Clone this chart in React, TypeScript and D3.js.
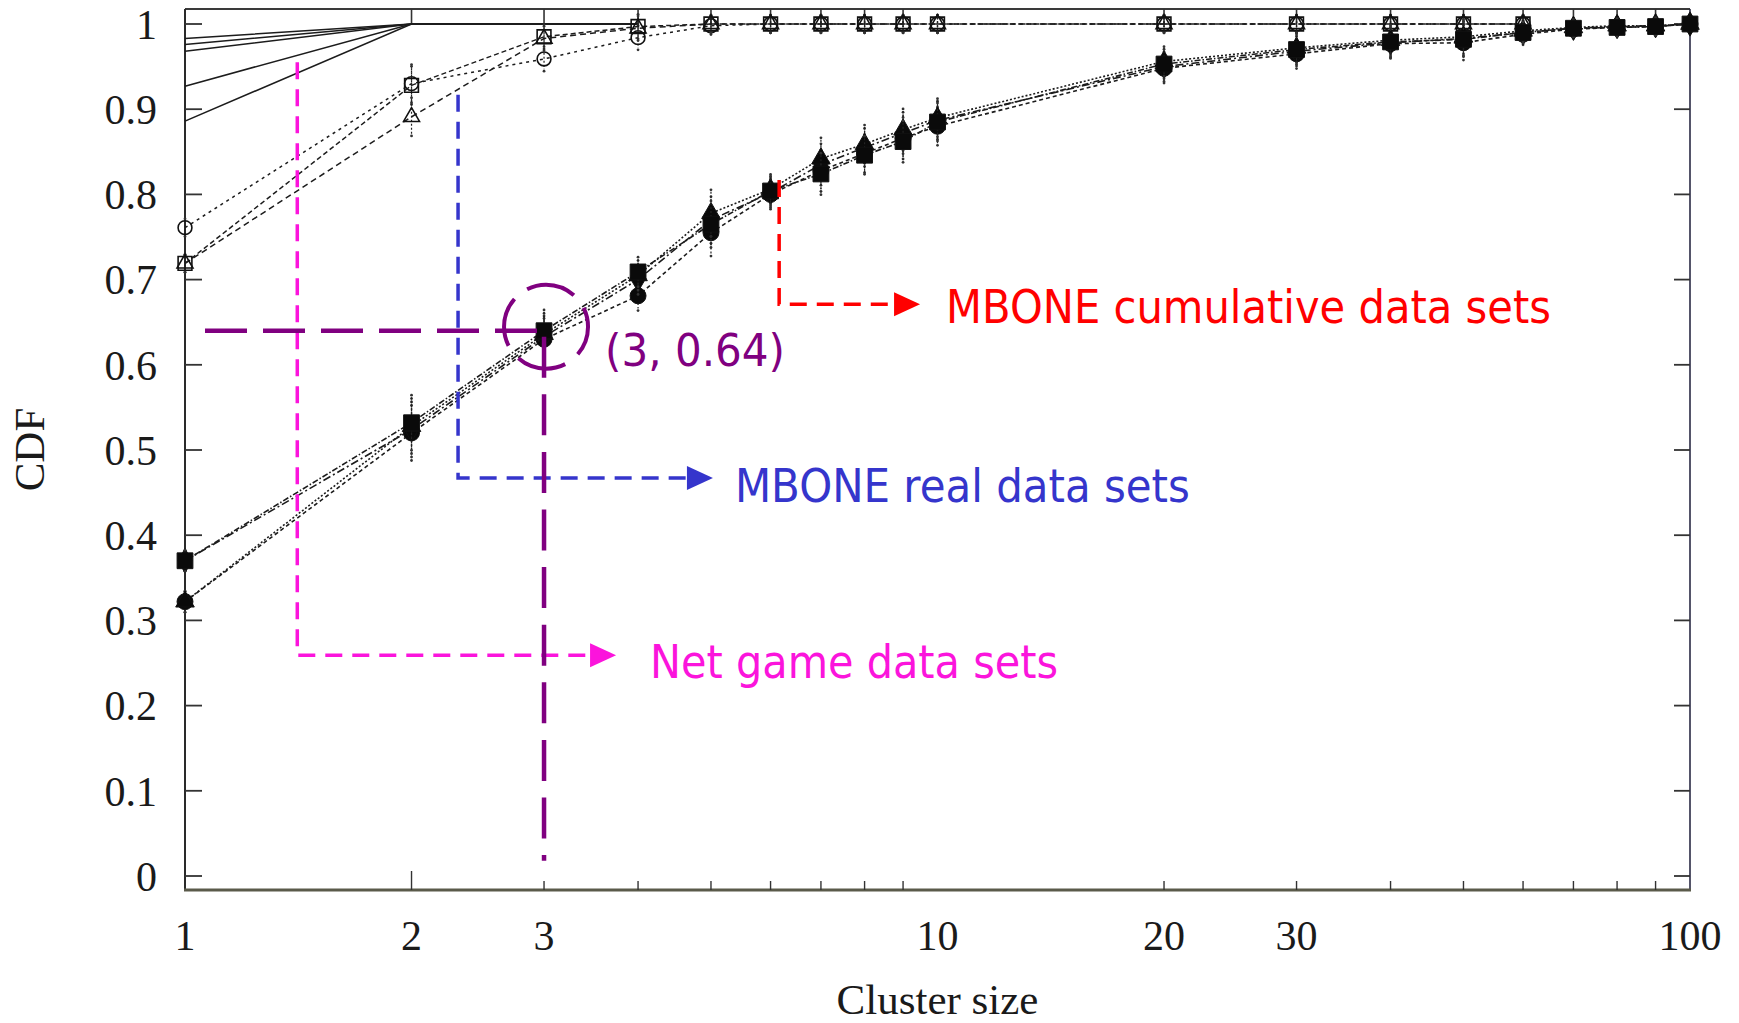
import React from 'react';
import * as d3 from 'd3';

// Cluster sizes at which the MBONE cumulative CDFs were sampled
const clusterSizes = [1, 2, 3, 4, 5, 6, 7, 8, 9, 10, 20, 30, 40, 50, 60, 70, 80, 90, 100];

// MBONE cumulative data sets (filled markers)
const cumSquare = [0.370, 0.532, 0.640, 0.709, 0.765, 0.804, 0.824, 0.846, 0.862, 0.885, 0.953, 0.970, 0.979, 0.982, 0.990, 0.995, 0.996, 0.997, 1.000];
const cumCircle = [0.322, 0.520, 0.630, 0.681, 0.755, 0.800, 0.828, 0.848, 0.866, 0.880, 0.948, 0.965, 0.977, 0.978, 0.988, 0.994, 0.996, 0.997, 1.000];
const cumTriangle = [0.322, 0.528, 0.636, 0.705, 0.778, 0.806, 0.842, 0.859, 0.876, 0.890, 0.956, 0.972, 0.981, 0.985, 0.992, 0.996, 0.998, 0.998, 1.000];
const cumDiamond = [0.370, 0.524, 0.633, 0.700, 0.770, 0.802, 0.835, 0.855, 0.872, 0.887, 0.950, 0.968, 0.978, 0.983, 0.990, 0.995, 0.997, 0.998, 1.000];
const cumSpread = [0.010, 0.030, 0.022, 0.015, 0.025, 0.015, 0.022, 0.020, 0.022, 0.020, 0.015, 0.015, 0.015, 0.018, 0.010, 0.008, 0.008, 0.008, 0.004];

// MBONE real data sets (hollow markers)
const realSizes = [1, 2, 3, 4, 5, 6, 7, 8, 9, 10, 20, 30, 40, 50, 60];
const realCircle = [0.761, 0.930, 0.959, 0.984, 0.998, 1, 1, 1, 1, 1, 1, 1, 1, 1, 1];
const realSquare = [0.719, 0.928, 0.985, 0.997, 1, 1, 1, 1, 1, 1, 1, 1, 1, 1, 1];
const realTriangle = [0.719, 0.891, 0.983, 0.995, 1, 1, 1, 1, 1, 1, 1, 1, 1, 1, 1];
const realSpread = [0.008, 0.020, 0.012, 0.012, 0.008, 0.008, 0.008, 0.008, 0.008, 0.008, 0.008, 0.008, 0.008, 0.008, 0.008];

// Net game data sets (solid lines)
const netSizes = [1, 2, 3, 4];
const netGameA = [0.983, 1, 1, 1];
const netGameB = [0.976, 1, 1, 1];
const netGameC = [0.968, 1, 1, 1];
const netGameD = [0.927, 1, 1, 1];
const netGameE = [0.886, 1, 1, 1];

// Axis tick labels
const xTickLabels = [1, 2, 3, 10, 20, 30, 100];
const yTickValues = [0, 0.1, 0.2, 0.3, 0.4, 0.5, 0.6, 0.7, 0.8, 0.9, 1];

// Highlighted reading
const highlightX = 3;
const highlightY = 0.64;

const W = 1739;
const H = 1023;
const left = 185;
const right = 1690;
const frameTop = 9;
const frameBottom = 890;

const x = d3.scaleLog().domain([1, 100]).range([left, right]);
const y = d3.scaleLinear().domain([0, 1]).range([876, 24]);

const serif = '"Liberation Serif", "Times New Roman", serif';
const sans = '"DejaVu Sans", Verdana, sans-serif';

type Series = { xs: number[]; ys: number[]; err?: number[]; symbol?: d3.SymbolType; size?: number; filled?: boolean; dash?: string; width?: number; color?: string };

const cumulative: Series[] = [
  { xs: clusterSizes, ys: cumCircle, err: cumSpread, symbol: d3.symbolCircle, size: 200, filled: true, dash: '4 3', width: 1.6 },
  { xs: clusterSizes, ys: cumDiamond, err: cumSpread, symbol: d3.symbolDiamond, size: 170, filled: true, dash: '8 3 2 3', width: 1.6 },
  { xs: clusterSizes, ys: cumTriangle, err: cumSpread, symbol: d3.symbolTriangle, size: 150, filled: true, dash: '2 2', width: 1.6 },
  { xs: clusterSizes, ys: cumSquare, err: cumSpread, symbol: d3.symbolSquare, size: 250, filled: true, dash: '6 2 1.5 2', width: 1.6 },
];

const real: Series[] = [
  { xs: realSizes, ys: realCircle, err: realSpread, symbol: d3.symbolCircle, size: 150, filled: false, dash: '3 4', width: 1.5 },
  { xs: realSizes, ys: realSquare, err: realSpread, symbol: d3.symbolSquare, size: 190, filled: false, dash: '5 3', width: 1.5 },
  { xs: realSizes, ys: realTriangle, err: realSpread, symbol: d3.symbolTriangle, size: 110, filled: false, dash: '6 4', width: 1.5 },
];

const netGame: Series[] = [netGameA, netGameB, netGameC, netGameD, netGameE].map((ys) => ({ xs: netSizes, ys, width: 1.6 }));

const callouts = [
  { label: 'Net game data sets', color: '#fb14dc', at: 1.41, from: 0.955, to: 0.259, tip: 3.74, dx: 34, dy: 23, len: 408 },
  { label: 'MBONE real data sets', color: '#3535cc', at: 2.306, from: 0.917, to: 0.467, tip: 5.03, dx: 22, dy: 24, len: 455 },
  { label: 'MBONE cumulative data sets', color: '#ff0000', at: 6.16, from: 0.817, to: 0.671, tip: 9.48, dx: 26, dy: 19, len: 605 },
];

const line = d3
  .line<[number, number]>()
  .x((d) => x(d[0]))
  .y((d) => y(d[1]));

function SeriesMarks({ s, k }: { s: Series; k: string }) {
  const pts: [number, number][] = s.xs.map((v, i) => [v, s.ys[i]]);
  const sym = s.symbol ? d3.symbol(s.symbol, s.size ?? 150)() : null;
  return (
    <g>
      <path d={line(pts) ?? ''} fill="none" stroke="#1c1c1c" strokeWidth={s.width ?? 1.5} strokeDasharray={s.dash} />
      {s.err &&
        pts.map(([a, b], i) => {
          const e = s.err![i];
          const px = x(a);
          return (
            <g key={`${k}-e${i}`}>
              <line x1={px} x2={px} y1={y(b + e)} y2={y(b - e)} stroke="#222" strokeWidth={1.2} strokeDasharray="2 2" />
              <circle cx={px} cy={y(b + e) - 2} r={1.4} fill="#333" />
              <circle cx={px} cy={y(b - e) + 2} r={1.4} fill="#333" />
            </g>
          );
        })}
      {sym &&
        pts.map(([a, b], i) => (
          <path
            key={`${k}-m${i}`}
            d={sym}
            transform={`translate(${x(a)},${y(b)})`}
            fill={s.filled ? '#0a0a0a' : 'none'}
            stroke="#111"
            strokeWidth={s.filled ? 1 : 1.6}
          />
        ))}
    </g>
  );
}

export default function App() {
  const logTicks = x.ticks().filter((t) => ![1, 10, 100].includes(t));
  const px3 = x(highlightX);
  const py3 = y(highlightY);

  return (
    <svg width={W} height={H} viewBox={`0 0 ${W} ${H}`} style={{ position: 'absolute', left: 0, top: 0, display: 'block', background: '#fff' }}>
      <rect x={0} y={0} width={W} height={H} fill="#fff" />

      {/* frame */}
      <line x1={left} x2={right} y1={frameTop} y2={frameTop} stroke="#3a3a3a" strokeWidth={2} />
      <line x1={left} x2={left} y1={frameTop} y2={frameBottom} stroke="#2a2a2a" strokeWidth={2} />
      <line x1={right} x2={right} y1={frameTop} y2={frameBottom} stroke="#2a2a44" strokeWidth={1.6} />
      <line x1={left - 1} x2={right + 1} y1={frameBottom} y2={frameBottom} stroke="#5a5a4a" strokeWidth={3} />

      {/* y ticks on both sides */}
      {yTickValues.map((t) => (
        <g key={`yt${t}`}>
          <line x1={left} x2={left + 17} y1={y(t)} y2={y(t)} stroke="#333" strokeWidth={1.8} />
          <line x1={right - 16} x2={right} y1={y(t)} y2={y(t)} stroke="#333" strokeWidth={1.8} />
          <text x={157} y={y(t)} dy="0.35em" textAnchor="end" fontFamily={serif} fontSize={42} fill="#1a1a1a">
            {t === 0 || t === 1 ? String(t) : t.toFixed(1)}
          </text>
        </g>
      ))}

      {/* x ticks on bottom and top */}
      {logTicks.map((t) => (
        <g key={`xt${t}`}>
          <line x1={x(t)} x2={x(t)} y1={frameBottom} y2={frameBottom - (t === 2 ? 19 : 9)} stroke="#333" strokeWidth={1.4} />
          <line x1={x(t)} x2={x(t)} y1={frameTop} y2={frameTop + 16} stroke="#333" strokeWidth={1.6} />
        </g>
      ))}
      {xTickLabels.map((t) => (
        <text key={`xl${t}`} x={x(t)} y={950} textAnchor="middle" fontFamily={serif} fontSize={42} fill="#1a1a1a">
          {t}
        </text>
      ))}

      <text x={x(10)} y={1014} textAnchor="middle" fontFamily={serif} fontSize={43} fill="#1a1a1a">
        Cluster size
      </text>
      <text transform={`translate(44, ${(frameTop + frameBottom) / 2}) rotate(-90)`} textAnchor="middle" fontFamily={serif} fontSize={43} fill="#1a1a1a">
        CDF
      </text>

      {/* data */}
      {netGame.map((s, i) => (
        <SeriesMarks key={`n${i}`} s={s} k={`n${i}`} />
      ))}
      {real.map((s, i) => (
        <SeriesMarks key={`r${i}`} s={s} k={`r${i}`} />
      ))}
      {cumulative.map((s, i) => (
        <SeriesMarks key={`c${i}`} s={s} k={`c${i}`} />
      ))}

      {/* callouts */}
      {callouts.map((c) => {
        const cx = x(c.at);
        const yb = y(c.to);
        const tx = x(c.tip);
        return (
          <g key={c.label}>
            <path d={`M${cx},${y(c.from)} V${yb} H${tx - 24}`} fill="none" stroke={c.color} strokeWidth={3.5} strokeDasharray="17 10" />
            <path d={`M${tx},${yb} L${tx - 26},${yb - 12} L${tx - 26},${yb + 12} Z`} fill={c.color} />
            <text x={tx + c.dx} y={yb + c.dy} fontFamily={sans} fontSize={47} fill={c.color} textLength={c.len} lengthAdjust="spacingAndGlyphs">
              {c.label}
            </text>
          </g>
        );
      })}

      {/* highlighted reading */}
      <line x1={left + 20} x2={px3} y1={py3} y2={py3} stroke="#800080" strokeWidth={4.5} strokeDasharray="42 16" />
      <line x1={px3} x2={px3} y1={py3 + 6} y2={y(0.018)} stroke="#800080" strokeWidth={4.5} strokeDasharray="41 16.6" />
      <circle cx={px3 + 2} cy={py3 - 4} r={42} fill="none" stroke="#800080" strokeWidth={4} strokeDasharray="50 16" strokeDashoffset={20} />
      <text x={605} y={366} fontFamily={sans} fontSize={44} fill="#800080" textLength={180} lengthAdjust="spacingAndGlyphs">
        {`(${highlightX}, ${highlightY})`}
      </text>
    </svg>
  );
}
